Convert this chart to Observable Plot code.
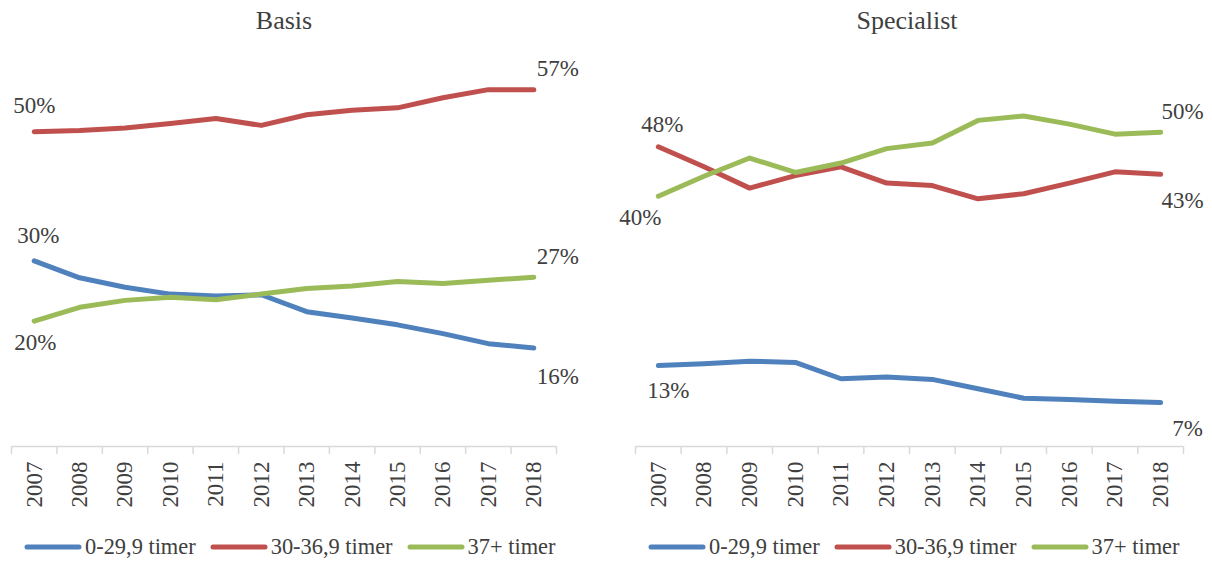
<!DOCTYPE html>
<html><head><meta charset="utf-8">
<script src="https://cdn.jsdelivr.net/npm/d3@7"></script>
<script src="https://cdn.jsdelivr.net/npm/@observablehq/plot@0.6"></script>
<style>
body{margin:0;background:#fff;font-family:"Liberation Serif",serif;color:#404040}
#wrap{position:relative;width:1212px;height:562px;overflow:hidden}
.title{position:absolute;top:6px;font-family:"Liberation Serif",serif;font-size:26px;line-height:30px;text-align:center;width:300px;color:#404040}
.panel{position:absolute;top:0}
.legend{position:absolute;top:533px;display:flex;align-items:center;font-family:"Liberation Serif",serif;font-size:22.4px;line-height:28px;white-space:nowrap;color:#404040}
.legend .item{display:flex;align-items:center;margin-right:14px}
.legend .item span{font-family:"Liberation Serif",serif}
.legend svg{margin-right:3px}
</style></head><body><div id="wrap"></div>
<script>
const years = [2007,2008,2009,2010,2011,2012,2013,2014,2015,2016,2017,2018];
const seriesNames = ["0-29,9 timer","30-36,9 timer","37+ timer"];
const seriesColors = ["#4f81bd","#c0504d","#9bbb59"];
const panelTitles = ["Basis","Specialist"];

// Basis (percent)
const basisShort = [29.6,26.9,25.4,24.3,24.0,24.2,21.5,20.5,19.4,18.0,16.4,15.7];
const basisMid   = [50.2,50.4,50.8,51.5,52.3,51.2,52.9,53.6,54.0,55.6,56.9,56.9];
const basisLong  = [20.0,22.2,23.3,23.8,23.4,24.3,25.2,25.6,26.3,26.0,26.5,27.0];
// Specialist (percent)
const specShort = [12.9,13.2,13.6,13.4,10.8,11.1,10.7,9.2,7.7,7.5,7.2,7.0];
const specMid   = [47.8,44.6,41.2,43.2,44.6,42.0,41.6,39.5,40.3,42.0,43.8,43.4];
const specLong  = [39.9,43.1,46.0,43.7,45.2,47.5,48.4,52.0,52.7,51.4,49.8,50.1];

const wrap = document.getElementById("wrap");
const fmt = v => Math.round(v) + "%";

function rows(arrs) {
  const out = [];
  arrs.forEach((arr, s) => arr.forEach((v, i) => out.push({year: years[i], value: v, series: seriesNames[s]})));
  return out;
}

function panel(arrs, cfg) {
  const data = rows(arrs);
  const bounds = d3.range(years.length + 1).map(i => years[0] - 0.5 + i);
  const labelMarks = cfg.labels.map(l => {
    const arr = arrs[l.s];
    const idx = l.end ? arr.length - 1 : 0;
    return Plot.text([{year: years[idx], value: arr[idx]}], {
      x: "year", y: "value", text: d => fmt(d.value),
      dx: l.dx, dy: l.dy, fill: "#404040", fontSize: 23
    });
  });
  const chart = Plot.plot({
    width: 606, height: 520,
    marginLeft: cfg.ml, marginRight: cfg.mr, marginTop: 7, marginBottom: 74,
    x: {type: "linear", domain: [years[0] - 0.5, years[years.length - 1] + 0.5], label: null},
    y: {domain: [0, 70], axis: null},
    color: {domain: seriesNames, range: seriesColors},
    style: {fontFamily: "Liberation Serif", fontSize: "23px", color: "#404040", background: "transparent", overflow: "visible"},
    marks: [
      Plot.ruleY([0], {stroke: "#d9d9d9", strokeWidth: 1.5}),
      Plot.axisX({ticks: bounds, tickSize: 8, tickFormat: () => "", stroke: "#d9d9d9", strokeWidth: 1.5, strokeOpacity: 1, label: null}),
      Plot.axisX({ticks: years, tickSize: 0, tickPadding: 15, tickRotate: -90, tickFormat: d => String(d), fill: "#404040", fontSize: 23, label: null}),
      Plot.line(data, {x: "year", y: "value", z: "series", stroke: "series", strokeWidth: 5, strokeLinecap: "round", strokeLinejoin: "round"}),
      ...labelMarks
    ]
  });
  chart.classList.add("panel");
  chart.style.left = cfg.left + "px";
  wrap.appendChild(chart);

  const t = document.createElement("div");
  t.className = "title";
  t.textContent = cfg.title;
  t.style.left = (cfg.titleX - 150) + "px";
  wrap.appendChild(t);

  const lg = document.createElement("div");
  lg.className = "legend";
  lg.style.left = cfg.legendX + "px";
  seriesNames.forEach((n, i) => {
    const it = document.createElement("div");
    it.className = "item";
    it.innerHTML = `<svg width="58" height="10"><line x1="3" y1="5" x2="55" y2="5" stroke="${seriesColors[i]}" stroke-width="5" stroke-linecap="round"/></svg><span>${n}</span>`;
    lg.appendChild(it);
  });
  wrap.appendChild(lg);
}

panel([basisShort, basisMid, basisLong], {
  title: panelTitles[0], left: 0, ml: 11, mr: 50, titleX: 284, legendX: 24,
  labels: [
    {s: 1, end: false, dx: 0, dy: -26},
    {s: 1, end: true, dx: 24, dy: -21},
    {s: 0, end: false, dx: 4, dy: -25},
    {s: 2, end: false, dx: 1, dy: 22},
    {s: 2, end: true, dx: 24, dy: -21},
    {s: 0, end: true, dx: 24, dy: 29}
  ]
});
panel([specShort, specMid, specLong], {
  title: panelTitles[1], left: 606, ml: 29, mr: 29, titleX: 907, legendX: 648,
  labels: [
    {s: 1, end: false, dx: 4, dy: -22},
    {s: 2, end: false, dx: -18, dy: 21},
    {s: 0, end: false, dx: 10, dy: 25},
    {s: 2, end: true, dx: 22, dy: -21},
    {s: 1, end: true, dx: 22, dy: 26},
    {s: 0, end: true, dx: 27, dy: 26}
  ]
});
</script></body></html>
